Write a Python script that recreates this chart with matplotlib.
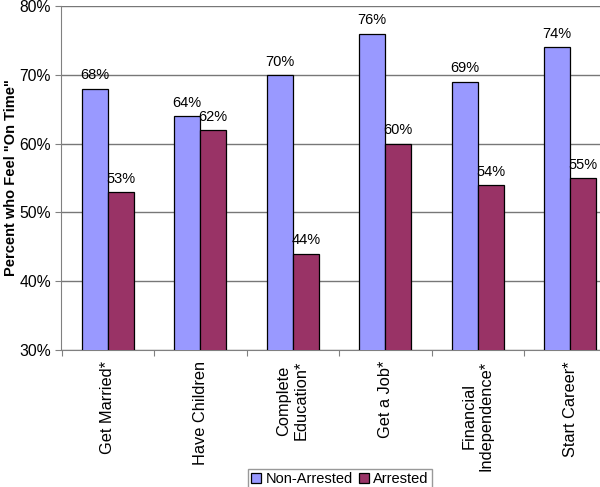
import numpy as np
import matplotlib.pyplot as plt

plt.rcParams['font.family'] = ['Liberation Sans', 'DejaVu Sans']

categories = ["Get Married*", "Have Children", "Complete\nEducation*", "Get a Job*",
              "Financial\nIndependence*", "Start Career*"]
non_arrested = [68, 64, 70, 76, 69, 74]
arrested = [53, 62, 44, 60, 54, 55]
yticks = [30, 40, 50, 60, 70, 80]

fig = plt.figure(figsize=(6, 4.87), dpi=100)
W, H = 600, 487
ax = fig.add_axes([61.5 / W, (H - 350) / H, 555 / W, 344 / H])

x = np.arange(len(categories))
bw = 0.28
b1 = ax.bar(x - bw / 2, non_arrested, bw, color='#9999FF', edgecolor='black', linewidth=0.9,
            label='Non-Arrested', zorder=3)
b2 = ax.bar(x + bw / 2, arrested, bw, color='#993366', edgecolor='black', linewidth=0.9,
            label='Arrested', zorder=3)

for bars, vals in ((b1, non_arrested), (b2, arrested)):
    for r, v in zip(bars, vals):
        ax.text(r.get_x() + r.get_width() / 2, v + 0.9, f"{v}%", ha='center', va='bottom',
                fontsize=10.5)

ax.set_ylim(30, 80)
ax.set_yticks(yticks)
ax.set_yticklabels([f"{t}%" for t in yticks], fontsize=11.3)
ax.set_xlim(-0.5, len(categories) - 0.5)
ax.set_xticks(np.arange(len(categories) + 1) - 0.5)
ax.set_xticklabels([])
ax.set_xticks(x, minor=True)
ax.set_xticklabels(categories, minor=True, rotation=90, fontsize=11.8, va='top',
                   ha='center', multialignment='center')
ax.tick_params(axis='x', which='minor', length=0, pad=8)
ax.tick_params(axis='x', which='major', length=4, direction='out', color='#808080')
ax.tick_params(axis='y', length=4, direction='out', color='#808080')

ax.grid(axis='y', color='#777777', linewidth=1, zorder=0)
for s in ('top', 'right'):
    ax.spines[s].set_visible(False)
for s in ('left', 'bottom'):
    ax.spines[s].set_color('#808080')

ax.set_ylabel('Percent who Feel "On Time"', fontsize=10.5, fontweight='bold')
ax.yaxis.set_label_coords((18 - 61.5) / 555, 0.5)

fig.legend(loc='upper center', bbox_to_anchor=(340 / W, 1 - 469 / H), ncol=2, fontsize=10.5,
           frameon=True, fancybox=False, edgecolor='#808080', handlelength=0.7,
           handleheight=0.7, handletextpad=0.3, columnspacing=0.4, borderpad=0.2,
           borderaxespad=0)

fig.savefig('out.png', dpi=100)
